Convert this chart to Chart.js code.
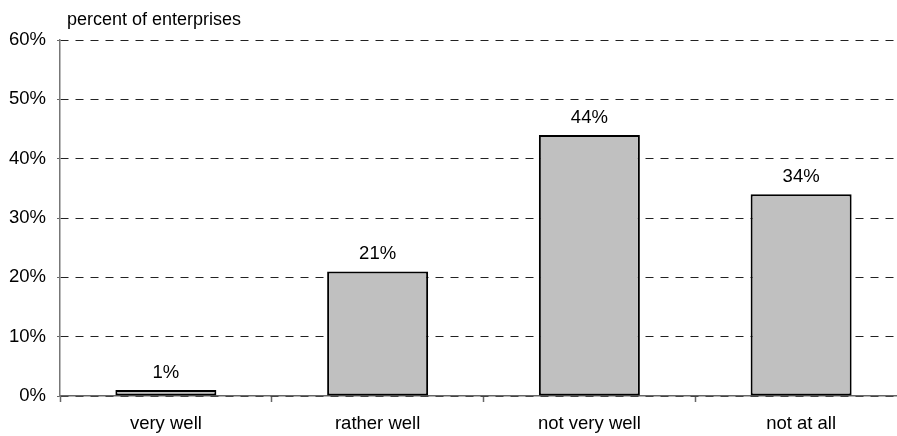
<!DOCTYPE html>
<html>
<head>
<meta charset="utf-8">
<script src="https://cdn.jsdelivr.net/npm/chart.js@4/dist/chart.umd.min.js"></script>
<style>
  html, body { margin: 0; padding: 0; background: #fff; overflow: hidden; }
  /* the plot runs a little past the right edge of the picture, so the canvas is wider and clipped */
  #wrap { width: 897px; height: 436px; overflow: hidden; }
</style>
</head>
<body>
<div id="wrap"><canvas id="grafico" width="909" height="436"></canvas></div>
<script>
// data
const categorias = ['very well', 'rather well', 'not very well', 'not at all'];
const valores = [1, 21, 44, 34];
const tituloEixo = 'percent of enterprises';

const fonte = 'Liberation Sans, Arial, sans-serif';

// labels above the bars
const rotulos = {
  id: 'rotulos',
  afterDatasetsDraw(chart) {
    const ctx = chart.ctx;
    const meta = chart.getDatasetMeta(0);
    ctx.save();
    ctx.font = '18.5px ' + fonte;
    ctx.fillStyle = '#000';
    ctx.textAlign = 'center';
    ctx.textBaseline = 'alphabetic';
    meta.data.forEach((bar, i) => {
      ctx.fillText(valores[i] + '%', bar.x, bar.y - 12);
    });
    ctx.restore();
  }
};

// axis title in the top left corner
const tituloY = {
  id: 'tituloY',
  afterDraw(chart) {
    const ctx = chart.ctx;
    ctx.save();
    ctx.font = '18px ' + fonte;
    ctx.fillStyle = '#000';
    ctx.textAlign = 'left';
    ctx.textBaseline = 'alphabetic';
    ctx.fillText(tituloEixo, 67, 25);
    ctx.restore();
  }
};

const contexto = document.getElementById('grafico').getContext('2d');
new Chart(contexto, {
  type: 'bar',
  data: {
    labels: categorias,
    datasets: [{
      data: valores,
      backgroundColor: '#c0c0c0',
      borderColor: '#000000',
      borderWidth: 2,
      borderSkipped: false,
      categoryPercentage: 1,
      barPercentage: 0.477
    }]
  },
  options: {
    responsive: false,
    animation: false,
    layout: { padding: { top: 40, right: 2, left: 0, bottom: 0 } },
    plugins: {
      legend: { display: false },
      tooltip: { enabled: false }
    },
    scales: {
      x: {
        offset: true,
        afterFit(scale) { scale.height = 40; },
        grid: {
          offset: true,
          drawOnChartArea: false,
          drawTicks: true,
          tickLength: 6,
          tickWidth: 1.5,
          color: '#666'
        },
        border: { color: '#666', width: 1.5 },
        ticks: { color: '#000', font: { family: fonte, size: 18.5 }, padding: 11 }
      },
      y: {
        min: 0,
        max: 60,
        afterFit(scale) { scale.width = 60; },
        grid: {
          color: '#222',
          lineWidth: 1,
          tickBorderDash: [],
          tickColor: '#666',
          tickLength: 3
        },
        border: { color: '#777', width: 1.5, dash: [8, 7] },
        ticks: {
          stepSize: 10,
          color: '#000',
          padding: 11,
          font: { family: fonte, size: 18.5 },
          callback: v => v + '%'
        }
      }
    }
  },
  plugins: [rotulos, tituloY]
});
</script>
</body>
</html>
